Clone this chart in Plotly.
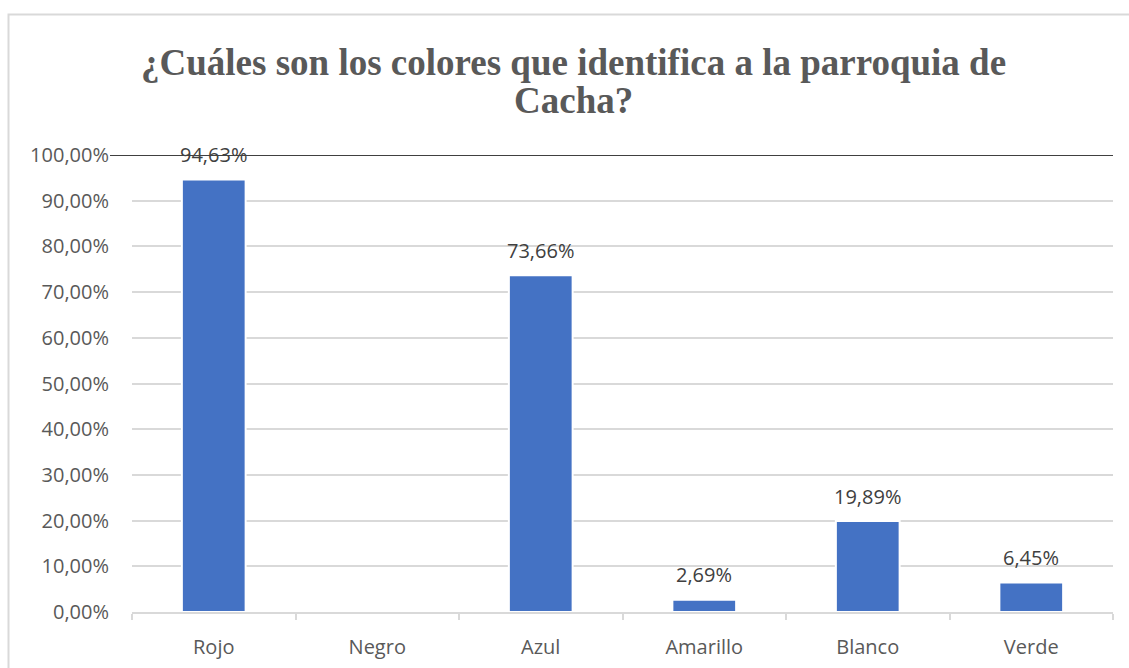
import plotly.graph_objects as go

# Survey results: colours associated with the parish of Cacha
categories = ["Rojo", "Negro", "Azul", "Amarillo", "Blanco", "Verde"]
values = [0.9463, 0.0, 0.7366, 0.0269, 0.1989, 0.0645]
value_labels = ["94,63%", "", "73,66%", "2,69%", "19,89%", "6,45%"]
y_ticks = [i / 10 for i in range(11)]
y_tick_labels = [f"{i * 10},00%" for i in range(11)]
title_lines = ["¿Cuáles son los colores que identifica a la parroquia de", "Cacha?"]

BAR_COLOR = "#4472C4"
GRID_COLOR = "#D9D9D9"
TEXT_COLOR = "#595959"
LABEL_COLOR = "#404040"
FONT = "Open Sans"
FS = 20

# plot area in pixels
W, H = 1129, 668
L, R, T, B = 132, 16, 155, 56
pw, ph = W - L - R, H - T - B

def px_x(x):
    return (x - L) / pw

def px_y(y):
    return (H - B - y) / ph

fig = go.Figure()
fig.add_trace(go.Bar(
    x=categories,
    y=values,
    width=0.39,
    marker=dict(color=BAR_COLOR, line=dict(color="white", width=2)),
    hoverinfo="skip",
))

shapes = [
    # outer chart frame
    dict(type="rect", xref="paper", yref="paper",
         x0=px_x(8.5), x1=px_x(1140), y0=px_y(680), y1=px_y(14.5),
         line=dict(color=GRID_COLOR, width=2), fillcolor="rgba(0,0,0,0)", layer="below"),
    # dark rule along the 100 % level
    dict(type="line", xref="paper", yref="y",
         x0=px_x(110), x1=1, y0=1, y1=1,
         line=dict(color="#404040", width=2), layer="above"),
]

annotations = [
    dict(text=f"<b>{title_lines[0]}</b>", xref="paper", yref="paper",
         x=px_x(573), y=px_y(63), showarrow=False, xanchor="center", yanchor="middle",
         font=dict(family="Liberation Serif", size=37, color=TEXT_COLOR)),
    dict(text=f"<b>{title_lines[1]}</b>", xref="paper", yref="paper",
         x=px_x(573), y=px_y(100), showarrow=False, xanchor="center", yanchor="middle",
         font=dict(family="Liberation Serif", size=37, color=TEXT_COLOR)),
]

# value labels above each bar
for cat, val, lab in zip(categories, values, value_labels):
    if not lab:
        continue
    annotations.append(dict(
        text=lab, x=cat, y=val, xref="x", yref="y",
        showarrow=False, xanchor="center", yanchor="middle", yshift=25,
        font=dict(family=FONT, size=FS, color=LABEL_COLOR),
    ))

fig.update_layout(
    width=W, height=H,
    margin=dict(l=L, r=R, t=T, b=B, pad=0, autoexpand=False),
    paper_bgcolor="white", plot_bgcolor="white",
    showlegend=False,
    shapes=shapes,
    annotations=annotations,
    font=dict(family=FONT, size=FS, color=TEXT_COLOR),
)
fig.update_xaxes(
    automargin=False,
    showgrid=False,
    showline=True, linecolor=GRID_COLOR, linewidth=2,
    ticks="outside", ticklen=6, tickcolor=GRID_COLOR, tickwidth=2,
    tickson="boundaries",
    ticklabelstandoff=16,
    tickfont=dict(family=FONT, size=FS, color=TEXT_COLOR),
    fixedrange=True,
)
fig.update_yaxes(
    automargin=False,
    range=[0, 1],
    tickvals=y_ticks, ticktext=y_tick_labels,
    showgrid=True, gridcolor=GRID_COLOR, gridwidth=2,
    zeroline=False, showline=False,
    ticks="", ticklabelstandoff=22,
    tickfont=dict(family=FONT, size=FS, color=TEXT_COLOR),
    fixedrange=True,
)

fig.write_html("out.html", config={"displayModeBar": False})
